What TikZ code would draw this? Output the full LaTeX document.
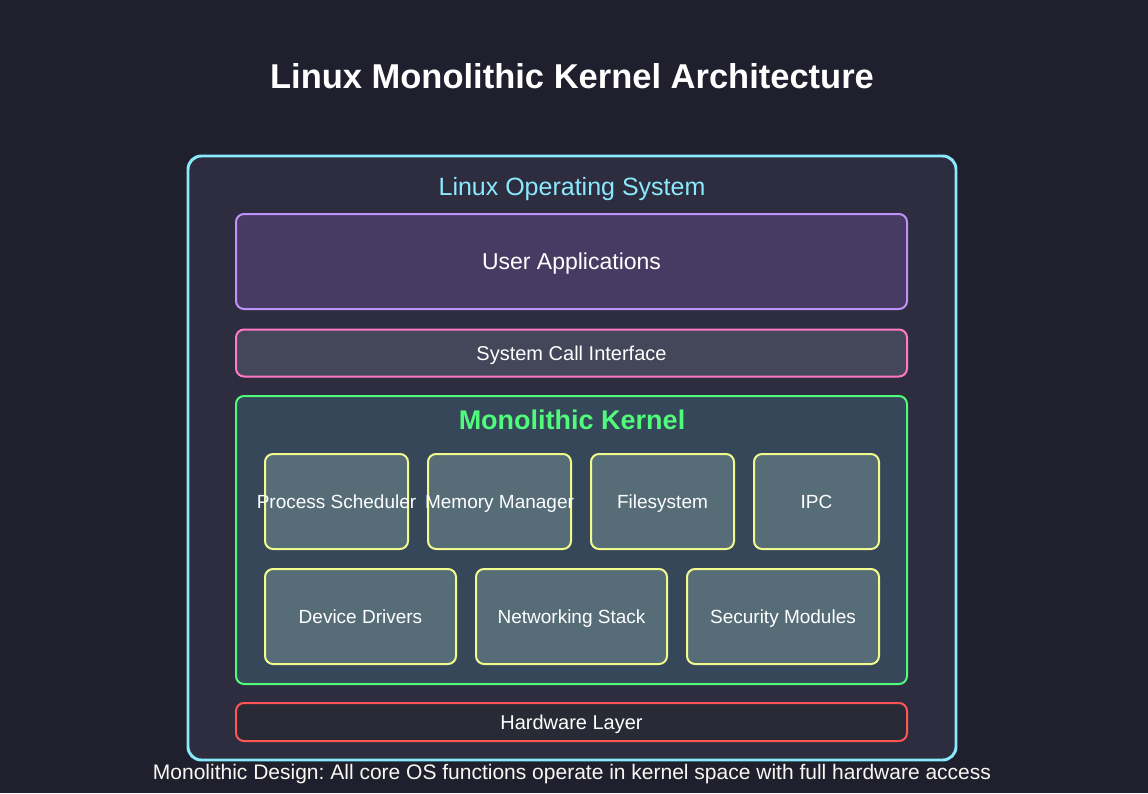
\documentclass[tikz,border=0pt]{standalone}
\usepackage{fontspec}
\setmainfont{Liberation Sans}
\frenchspacing
\definecolor{bgdark}{HTML}{1F1F2E}
\definecolor{osfill}{HTML}{2D2D3F}
\definecolor{appfill}{HTML}{483B63}
\definecolor{sysfill}{HTML}{44475A}
\definecolor{kernfill}{HTML}{354759}
\definecolor{modfill}{HTML}{566D78}
\definecolor{hwfill}{HTML}{282A36}
\definecolor{dcyan}{HTML}{8BE9FD}
\definecolor{dpurple}{HTML}{BD93F9}
\definecolor{dpink}{HTML}{FF79C6}
\definecolor{dgreen}{HTML}{50FA7B}
\definecolor{dyellow}{HTML}{F1FA8C}
\definecolor{dred}{HTML}{FF5555}
\definecolor{dwhite}{HTML}{F8F8F2}
\newcommand{\pxfont}[1]{\pgfmathsetmacro{\pxsize}{#1*0.75}\fontsize{\pxsize pt}{1.2\dimexpr\pxsize pt\relax}\selectfont}
\tikzset{
  px/.style={font=\pxfont{#1}, text height=#1*0.54pt, text depth=0pt},
  sized/.style 2 args={minimum width=#1*0.75pt, minimum height=#2*0.75pt, inner sep=0pt},
  layer/.style={draw, rounded corners=6pt, line width=1.5pt, text=white},
  module/.style={draw=dyellow, fill=modfill, rounded corners=6pt, line width=1.5pt,
    text=white, px=19, sized={#1}{95}},
}
\begin{document}
\begin{tikzpicture}[x=0.75pt,y=-0.75pt]
  \fill[bgdark] (0,0) rectangle (1148,793);
  \useasboundingbox (0,0) rectangle (1148,793);
  \node[text=white, px=34.5, font=\pxfont{34.5}\bfseries] (title) at (572,76) {Linux Monolithic Kernel Architecture};
  % operating system frame
  \node[draw=dcyan, fill=osfill, rounded corners=10pt, line width=2.2pt, sized={768}{604}] (os) at (572,458) {};
  \node[text=dcyan, px=25] (oslabel) at (572,186) {Linux Operating System};
  \node[layer, draw=dpurple, fill=appfill, px=23, sized={671}{95}] (apps) at (571.5,261.5) {User Applications};
  \node[layer, draw=dpink, fill=sysfill, px=20, sized={671}{47}] (syscall) at (571.5,353) {System Call Interface};
  % kernel with its subsystems
  \node[layer, draw=dgreen, fill=kernfill, sized={671}{288}] (kernel) at (571.5,540) {};
  \node[text=dgreen, px=27, font=\pxfont{27}\bfseries] (kernlabel) at (572,420) {Monolithic Kernel};
  \node[module=143, label={[text=white, px=19]center:Process Scheduler}] (sched) at (336.5,501.5) {};
  \node[module=143, label={[text=white, px=19]center:Memory Manager}] (mem) at (499.5,501.5) {};
  \node[module=143] (fs) at (662.5,501.5) {Filesystem};
  \node[module=125] (ipc) at (816.5,501.5) {IPC};
  \node[module=191] (drivers) at (360.5,616.5) {Device Drivers};
  \node[module=191] (net) at (571.5,616.5) {Networking Stack};
  \node[module=192] (sec) at (783,616.5) {Security Modules};
  \node[layer, draw=dred, fill=hwfill, px=20, sized={671}{38}] (hw) at (571.5,722) {Hardware Layer};
  \node[text=dwhite, px=21] (caption) at (572,772) {Monolithic Design: All core OS functions operate in kernel space with full hardware access};
\end{tikzpicture}
\end{document}
